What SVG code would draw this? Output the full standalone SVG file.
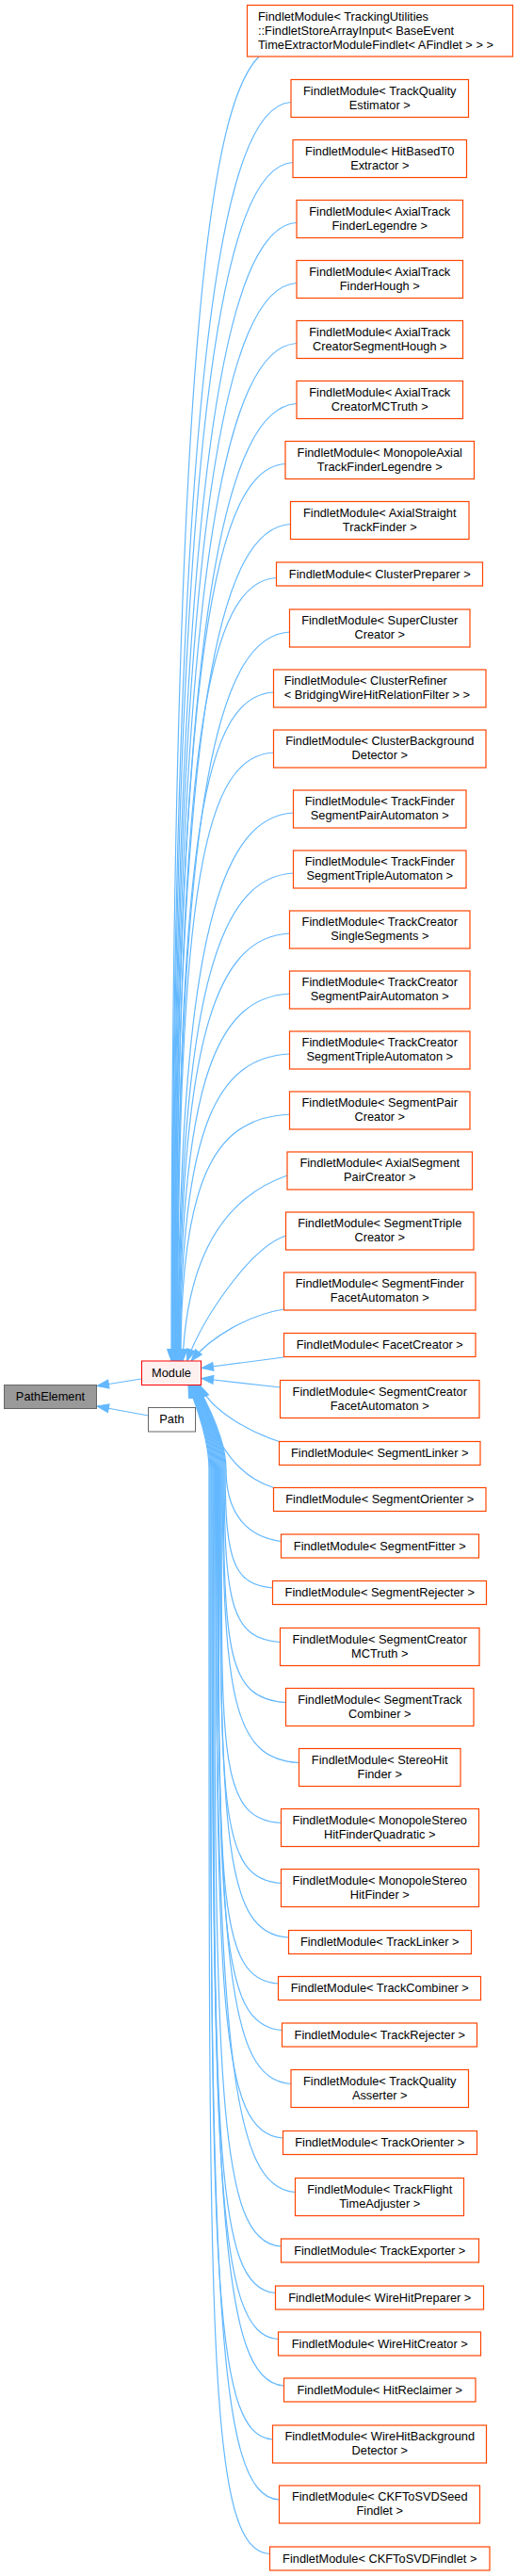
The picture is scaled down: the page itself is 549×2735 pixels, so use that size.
<svg xmlns="http://www.w3.org/2000/svg" width="549" height="2735" viewBox="0 0 549 2735">
<style>
text{font-family:"Liberation Sans",Arial,Helvetica,sans-serif;font-size:12.8px;fill:#000;text-anchor:middle}
text.l{text-anchor:start}
.n rect{fill:#fff;stroke:#ff4500;stroke-width:1.2}
#module rect{fill:#fff0f0;stroke:#ff0000}
#pathelement rect{fill:#999999;stroke:#666666}
#path rect{fill:#fff;stroke:#666666}
#edges path{fill:none;stroke:#63b8ff;stroke-width:1.2;marker-end:url(#arr)}
</style>
<defs>
<marker id="arr" markerUnits="userSpaceOnUse" viewBox="-1 -1 15 11" markerWidth="15" markerHeight="11" refX="12.5" refY="4.5" orient="auto" overflow="visible">
<path d="M0,0L12.5,4.5L0,9Z" fill="#63b8ff" stroke="#63b8ff" stroke-width="1"/>
</marker>
</defs>
<rect width="549" height="2735" fill="#fff"/>
<g id="edges">
<path d="M150,1464 L103,1471.5"/>
<path d="M157.5,1503 L103,1493"/>
<path d="M275,60 C225,110 182,350 182,1445"/>
<path d="M309,108.5 C237,112.5 182.6,375.8 182.6,1445"/>
<path d="M311,172.5 C239,176.5 183.1,427 183.1,1445"/>
<path d="M315,236.5 C243,240.5 183.7,478.2 183.7,1445"/>
<path d="M315,300.5 C243,304.5 184.2,529.4 184.2,1445"/>
<path d="M315,364.5 C243,368.5 184.8,580.6 184.8,1445"/>
<path d="M315,428.5 C243,432.5 185.3,631.8 185.3,1445"/>
<path d="M303,492.5 C231,496.5 185.9,683 185.9,1445"/>
<path d="M308.5,556.5 C236.5,560.5 186.4,734.2 186.4,1445"/>
<path d="M293.5,613.5 C221.5,617.5 187,779.8 187,1445"/>
<path d="M307.5,671 C235.5,675 187.5,825.8 187.5,1445"/>
<path d="M290.5,735 C218.5,739 188.1,877 188.1,1445"/>
<path d="M290.5,799 C218.5,803 188.6,928.2 188.6,1445"/>
<path d="M311.5,863 C239.5,867 189.2,979.4 189.2,1445"/>
<path d="M311.5,927 C239.5,931 189.7,1030.6 189.7,1445"/>
<path d="M307.5,991 C235.5,995 190.3,1081.8 190.3,1445"/>
<path d="M307.5,1055 C235.5,1059 190.8,1133 190.8,1445"/>
<path d="M307.5,1119 C235.5,1123 191.4,1184.2 191.4,1445"/>
<path d="M307.5,1183 C235.5,1187 191.9,1235.4 191.9,1445"/>
<path d="M305,1248 C265,1262 200,1300 194,1445"/>
<path d="M303.5,1312 C265,1325 215,1400 198.5,1445"/>
<path d="M301.5,1390 C265,1396 225,1418 203,1445"/>
<path d="M301.5,1441 L214,1452.5"/>
<path d="M297.5,1473 L214,1463.5"/>
<path d="M296.5,1530.5 C270,1522 225,1500 212.5,1471"/>
<path d="M290.5,1579.5 C260,1570 230,1545 211,1471"/>
<path d="M298.5,1636.5 C265,1632 240,1610 240,1560 C240,1530 221.7,1493 209.5,1471"/>
<path d="M289.5,1686 C249.2,1682 239.1,1660.8 239.1,1560 C239.1,1530 221,1493 209,1471"/>
<path d="M297.5,1743.5 C246.5,1739.5 238.1,1706.8 238.1,1560 C238.1,1530 220.3,1493 208.5,1471"/>
<path d="M303.5,1807.5 C242.3,1803.5 237.2,1758 237.2,1560 C237.2,1530 219.7,1493 208,1471"/>
<path d="M317.5,1871.5 C249.5,1867.5 236.2,1809.2 236.2,1560 C236.2,1530 219,1493 207.5,1471"/>
<path d="M298.5,1935.5 C230.5,1931.5 235.3,1860.4 235.3,1560 C235.3,1530 218.3,1493 207,1471"/>
<path d="M298.5,1999.5 C230.5,1995.5 234.3,1911.6 234.3,1560 C234.3,1530 217.6,1493 206.5,1471"/>
<path d="M306.5,2057 C238.5,2053 233.4,1957.6 233.4,1560 C233.4,1530 217,1493 206,1471"/>
<path d="M295.5,2106 C227.5,2102 232.4,1996.8 232.4,1560 C232.4,1530 216.3,1493 205.5,1471"/>
<path d="M299.5,2155.5 C231.5,2151.5 231.5,2036.4 231.5,1560 C231.5,1530 215.6,1493 205,1471"/>
<path d="M309,2212.5 C241,2208.5 230.5,2082 230.5,1560 C230.5,1530 214.9,1493 204.5,1471"/>
<path d="M300.5,2270 C232.5,2266 229.6,2128 229.6,1560 C229.6,1530 214.2,1493 204,1471"/>
<path d="M313.5,2327.5 C245.5,2323.5 228.6,2174 228.6,1560 C228.6,1530 213.5,1493 203.5,1471"/>
<path d="M298.5,2385 C230.5,2381 227.7,2220 227.7,1560 C227.7,1530 212.9,1493 203,1471"/>
<path d="M292.5,2434.5 C224.5,2430.5 226.7,2259.6 226.7,1560 C226.7,1530 212.2,1493 202.5,1471"/>
<path d="M295.5,2483.5 C227.5,2479.5 225.8,2298.8 225.8,1560 C225.8,1530 211.5,1493 202,1471"/>
<path d="M301.5,2533 C233.5,2529 224.8,2338.4 224.8,1560 C224.8,1530 210.8,1493 201.5,1471"/>
<path d="M289.5,2590 C221.5,2586 223.9,2384 223.9,1560 C223.9,1530 210.2,1493 201,1471"/>
<path d="M296.5,2654 C228.5,2650 222.9,2435.2 222.9,1560 C222.9,1530 209.5,1493 200.5,1471"/>
<path d="M286.5,2711.5 C218.5,2707.5 222,2481.2 222,1560 C222,1530 208.8,1493 200,1471"/>
</g>
<g id="pathelement"><rect x="4.5" y="1470.5" width="98" height="25"/><text x="53.5" y="1487">PathElement</text></g>
<g id="module"><rect x="150.5" y="1445" width="63" height="25.5"/><text x="182" y="1461.5">Module</text></g>
<g id="path"><rect x="157.5" y="1494.5" width="50" height="25.5"/><text x="182.5" y="1511">Path</text></g>
<g id="n1" class="n"><rect x="262.5" y="5.5" width="282" height="54.5"/><text class="l" x="274" y="21.5">FindletModule&lt; TrackingUtilities</text><text class="l" x="274" y="36.5">::FindletStoreArrayInput&lt; BaseEvent</text><text class="l" x="274" y="51.5">TimeExtractorModuleFindlet&lt; AFindlet &gt; &gt; &gt;</text></g>
<g id="n2" class="n"><rect x="309" y="84.5" width="188.5" height="40"/><text x="403.25" y="100.8">FindletModule&lt; TrackQuality</text><text x="403.25" y="115.8">Estimator &gt;</text></g>
<g id="n3" class="n"><rect x="311" y="148.5" width="184.5" height="40"/><text x="403.25" y="164.8">FindletModule&lt; HitBasedT0</text><text x="403.25" y="179.8">Extractor &gt;</text></g>
<g id="n4" class="n"><rect x="315" y="212.5" width="176.5" height="40"/><text x="403.25" y="228.8">FindletModule&lt; AxialTrack</text><text x="403.25" y="243.8">FinderLegendre &gt;</text></g>
<g id="n5" class="n"><rect x="315" y="276.5" width="176.5" height="40"/><text x="403.25" y="292.8">FindletModule&lt; AxialTrack</text><text x="403.25" y="307.8">FinderHough &gt;</text></g>
<g id="n6" class="n"><rect x="315" y="340.5" width="176.5" height="40"/><text x="403.25" y="356.8">FindletModule&lt; AxialTrack</text><text x="403.25" y="371.8">CreatorSegmentHough &gt;</text></g>
<g id="n7" class="n"><rect x="315" y="404.5" width="176.5" height="40"/><text x="403.25" y="420.8">FindletModule&lt; AxialTrack</text><text x="403.25" y="435.8">CreatorMCTruth &gt;</text></g>
<g id="n8" class="n"><rect x="303" y="468.5" width="200.5" height="40"/><text x="403.25" y="484.8">FindletModule&lt; MonopoleAxial</text><text x="403.25" y="499.8">TrackFinderLegendre &gt;</text></g>
<g id="n9" class="n"><rect x="308.5" y="532.5" width="189.5" height="40"/><text x="403.25" y="548.8">FindletModule&lt; AxialStraight</text><text x="403.25" y="563.8">TrackFinder &gt;</text></g>
<g id="n10" class="n"><rect x="293.5" y="597" width="219" height="25"/><text x="403.25" y="613.5">FindletModule&lt; ClusterPreparer &gt;</text></g>
<g id="n11" class="n"><rect x="307.5" y="647" width="191.5" height="40"/><text x="403.25" y="663.3">FindletModule&lt; SuperCluster</text><text x="403.25" y="678.3">Creator &gt;</text></g>
<g id="n12" class="n"><rect x="290.5" y="711" width="225.5" height="40"/><text class="l" x="301.7" y="727.3">FindletModule&lt; ClusterRefiner</text><text class="l" x="301.7" y="742.3">&lt; BridgingWireHitRelationFilter &gt; &gt;</text></g>
<g id="n13" class="n"><rect x="290.5" y="775" width="225.5" height="40"/><text x="403.25" y="791.3">FindletModule&lt; ClusterBackground</text><text x="403.25" y="806.3">Detector &gt;</text></g>
<g id="n14" class="n"><rect x="311.5" y="839" width="183.5" height="40"/><text x="403.25" y="855.3">FindletModule&lt; TrackFinder</text><text x="403.25" y="870.3">SegmentPairAutomaton &gt;</text></g>
<g id="n15" class="n"><rect x="311.5" y="903" width="183.5" height="40"/><text x="403.25" y="919.3">FindletModule&lt; TrackFinder</text><text x="403.25" y="934.3">SegmentTripleAutomaton &gt;</text></g>
<g id="n16" class="n"><rect x="307.5" y="967" width="191.5" height="40"/><text x="403.25" y="983.3">FindletModule&lt; TrackCreator</text><text x="403.25" y="998.3">SingleSegments &gt;</text></g>
<g id="n17" class="n"><rect x="307.5" y="1031" width="191.5" height="40"/><text x="403.25" y="1047.3">FindletModule&lt; TrackCreator</text><text x="403.25" y="1062.3">SegmentPairAutomaton &gt;</text></g>
<g id="n18" class="n"><rect x="307.5" y="1095" width="191.5" height="40"/><text x="403.25" y="1111.3">FindletModule&lt; TrackCreator</text><text x="403.25" y="1126.3">SegmentTripleAutomaton &gt;</text></g>
<g id="n19" class="n"><rect x="307.5" y="1159" width="191.5" height="40"/><text x="403.25" y="1175.3">FindletModule&lt; SegmentPair</text><text x="403.25" y="1190.3">Creator &gt;</text></g>
<g id="n20" class="n"><rect x="305" y="1223" width="196.5" height="40"/><text x="403.25" y="1239.3">FindletModule&lt; AxialSegment</text><text x="403.25" y="1254.3">PairCreator &gt;</text></g>
<g id="n21" class="n"><rect x="303.5" y="1287" width="199.5" height="40"/><text x="403.25" y="1303.3">FindletModule&lt; SegmentTriple</text><text x="403.25" y="1318.3">Creator &gt;</text></g>
<g id="n22" class="n"><rect x="301.5" y="1351" width="203.5" height="40"/><text x="403.25" y="1367.3">FindletModule&lt; SegmentFinder</text><text x="403.25" y="1382.3">FacetAutomaton &gt;</text></g>
<g id="n23" class="n"><rect x="301.5" y="1415.5" width="203.5" height="25"/><text x="403.25" y="1432">FindletModule&lt; FacetCreator &gt;</text></g>
<g id="n24" class="n"><rect x="297.5" y="1465.5" width="211.5" height="40"/><text x="403.25" y="1481.8">FindletModule&lt; SegmentCreator</text><text x="403.25" y="1496.8">FacetAutomaton &gt;</text></g>
<g id="n25" class="n"><rect x="296.5" y="1530.5" width="213.5" height="25"/><text x="403.25" y="1547">FindletModule&lt; SegmentLinker &gt;</text></g>
<g id="n26" class="n"><rect x="290.5" y="1579.5" width="225.5" height="25"/><text x="403.25" y="1596">FindletModule&lt; SegmentOrienter &gt;</text></g>
<g id="n27" class="n"><rect x="298.5" y="1629" width="210" height="25"/><text x="403.25" y="1645.5">FindletModule&lt; SegmentFitter &gt;</text></g>
<g id="n28" class="n"><rect x="289.5" y="1678.5" width="227" height="25"/><text x="403.25" y="1695">FindletModule&lt; SegmentRejecter &gt;</text></g>
<g id="n29" class="n"><rect x="297.5" y="1728.5" width="211.5" height="40"/><text x="403.25" y="1744.8">FindletModule&lt; SegmentCreator</text><text x="403.25" y="1759.8">MCTruth &gt;</text></g>
<g id="n30" class="n"><rect x="303.5" y="1792.5" width="199.5" height="40"/><text x="403.25" y="1808.8">FindletModule&lt; SegmentTrack</text><text x="403.25" y="1823.8">Combiner &gt;</text></g>
<g id="n31" class="n"><rect x="317.5" y="1856.5" width="171.5" height="40"/><text x="403.25" y="1872.8">FindletModule&lt; StereoHit</text><text x="403.25" y="1887.8">Finder &gt;</text></g>
<g id="n32" class="n"><rect x="298.5" y="1920.5" width="210" height="40"/><text x="403.25" y="1936.8">FindletModule&lt; MonopoleStereo</text><text x="403.25" y="1951.8">HitFinderQuadratic &gt;</text></g>
<g id="n33" class="n"><rect x="298.5" y="1984.5" width="210" height="40"/><text x="403.25" y="2000.8">FindletModule&lt; MonopoleStereo</text><text x="403.25" y="2015.8">HitFinder &gt;</text></g>
<g id="n34" class="n"><rect x="306.5" y="2049.5" width="194" height="25"/><text x="403.25" y="2066">FindletModule&lt; TrackLinker &gt;</text></g>
<g id="n35" class="n"><rect x="295.5" y="2098.5" width="215" height="25"/><text x="403.25" y="2115">FindletModule&lt; TrackCombiner &gt;</text></g>
<g id="n36" class="n"><rect x="299.5" y="2148" width="207" height="25"/><text x="403.25" y="2164.5">FindletModule&lt; TrackRejecter &gt;</text></g>
<g id="n37" class="n"><rect x="309" y="2197.5" width="188.5" height="40"/><text x="403.25" y="2213.8">FindletModule&lt; TrackQuality</text><text x="403.25" y="2228.8">Asserter &gt;</text></g>
<g id="n38" class="n"><rect x="300.5" y="2262.5" width="206" height="25"/><text x="403.25" y="2279">FindletModule&lt; TrackOrienter &gt;</text></g>
<g id="n39" class="n"><rect x="313.5" y="2312.5" width="179" height="40"/><text x="403.25" y="2328.8">FindletModule&lt; TrackFlight</text><text x="403.25" y="2343.8">TimeAdjuster &gt;</text></g>
<g id="n40" class="n"><rect x="298.5" y="2377" width="210" height="25"/><text x="403.25" y="2393.5">FindletModule&lt; TrackExporter &gt;</text></g>
<g id="n41" class="n"><rect x="292.5" y="2427" width="221" height="25"/><text x="403.25" y="2443.5">FindletModule&lt; WireHitPreparer &gt;</text></g>
<g id="n42" class="n"><rect x="295.5" y="2476" width="215" height="25"/><text x="403.25" y="2492.5">FindletModule&lt; WireHitCreator &gt;</text></g>
<g id="n43" class="n"><rect x="301.5" y="2525" width="203.5" height="25"/><text x="403.25" y="2541.5">FindletModule&lt; HitReclaimer &gt;</text></g>
<g id="n44" class="n"><rect x="289.5" y="2575" width="227" height="40"/><text x="403.25" y="2591.3">FindletModule&lt; WireHitBackground</text><text x="403.25" y="2606.3">Detector &gt;</text></g>
<g id="n45" class="n"><rect x="296.5" y="2639" width="213" height="40"/><text x="403.25" y="2655.3">FindletModule&lt; CKFToSVDSeed</text><text x="403.25" y="2670.3">Findlet &gt;</text></g>
<g id="n46" class="n"><rect x="286.5" y="2704" width="233.5" height="25"/><text x="403.25" y="2720.5">FindletModule&lt; CKFToSVDFindlet &gt;</text></g>
</svg>
